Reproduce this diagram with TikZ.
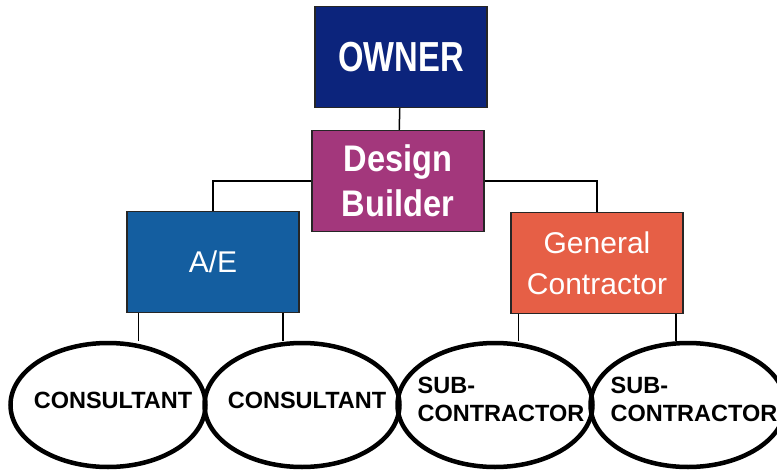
\documentclass[tikz,border=0pt]{standalone}
\usepackage{fontspec}
\setmainfont{Liberation Sans}
\newfontfamily\ownerfont[FakeStretch=0.78]{Liberation Sans}
\newfontfamily\dbfont[FakeStretch=0.88]{Liberation Sans}
\usetikzlibrary{shapes.geometric}

\definecolor{ownerblue}{RGB}{12,36,124}
\definecolor{dbpurple}{RGB}{163,55,124}
\definecolor{aeblue}{RGB}{20,94,160}
\definecolor{gcorange}{RGB}{230,95,70}

\tikzset{
  oval/.style={ellipse, draw, line width=4.5pt, minimum width=195, minimum height=124, inner sep=0},
  ovaltext/.style={font=\bfseries\fontsize{23.5}{28}\selectfont, align=left, inner sep=0}
}

\begin{document}
\begin{tikzpicture}[x=1pt,y=-1pt]
        \useasboundingbox (0,0) rectangle (777,471);
        \clip (0,0) rectangle (777,471);
                \begin{scope}[every node/.style={draw=black!85, line width=1.5pt, text=white, align=center, minimum width=172, minimum height=101, inner sep=0}]
                        \node [fill=ownerblue, font={\ownerfont\bfseries\fontsize{42}{48}\selectfont}] (O) at (401,57) {OWNER};
                        \node [fill=dbpurple, font={\dbfont\bfseries\fontsize{37}{45}\selectfont}] (DB) at (398,181) {Design\\Builder};
                        \node [fill=aeblue, font={\fontsize{30}{36}\selectfont}] (AE) at (213,262) {A/E};
                        \node [fill=gcorange, font={\fontsize{30}{41}\selectfont}] (GC) at (597,263) {General\\Contractor};
                \end{scope}
                \node [oval] (C1) at (108,405) {};
                \node [oval] (C2) at (302,405) {};
                \node [oval] (S1) at (495,405) {};
                \node [oval] (S2) at (688,405) {};
                \node [ovaltext] (C1t) at ([shift={(5,-5)}]C1) {CONSULTANT};
                \node [ovaltext] (C2t) at ([shift={(5,-5)}]C2) {CONSULTANT};
                \node [ovaltext] (S1t) at ([shift={(6,-6)}]S1) {SUB-\\CONTRACTOR};
                \node [ovaltext] (S2t) at ([shift={(6,-6)}]S2) {SUB-\\CONTRACTOR};
                \begin{scope}[every path/.style={line width=1.5pt}]
                        \draw (O) -- (DB);
                        \draw (DB.west) -| (AE.north);
                        \draw (DB.east) -| (GC.north);
                        \draw ([xshift=12]AE.south west) coordinate (a1) -- (a1 |- C1.north);
                        \draw ([xshift=-17]AE.south east) coordinate (a2) -- (a2 |- C2.north);
                        \draw ([xshift=8]GC.south west) coordinate (g1) -- (g1 |- S1.north);
                        \draw ([xshift=-8]GC.south east) coordinate (g2) -- (g2 |- S2.north);
                \end{scope}
        \end{tikzpicture}
\end{document}
